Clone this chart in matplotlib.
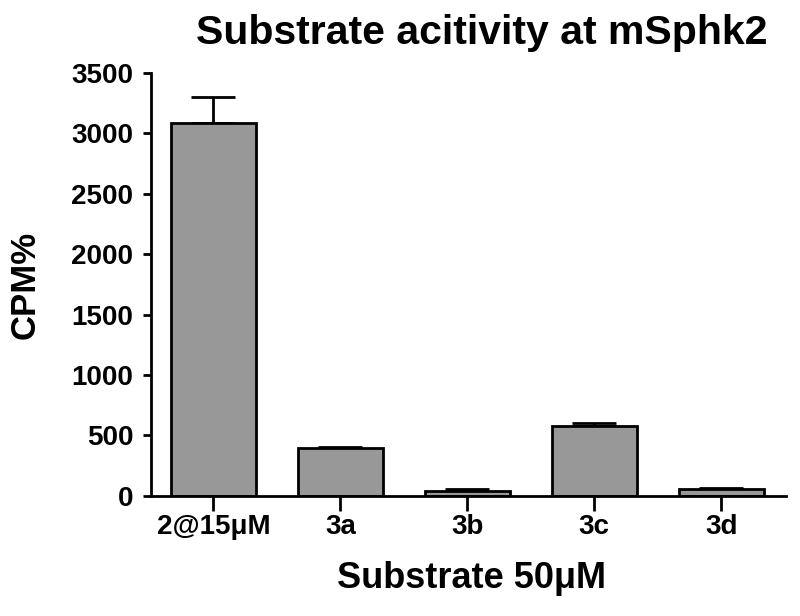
import numpy as np
import matplotlib.pyplot as plt

# values
labels = ['2@15μM', '3a', '3b', '3c', '3d']
means = [3090, 400, 42, 582, 58]
errs = [210, 8, 12, 25, 8]

plt.rcParams['font.family'] = ['Liberation Sans', 'DejaVu Sans']
plt.rcParams['font.weight'] = 'bold'

fig = plt.figure(figsize=(8, 6.16), dpi=100)
ax = fig.add_axes([0.189, 0.195, 0.7935, 0.6865])

x = np.arange(len(labels))
ax.bar(x, means, width=0.67, color='#989898', edgecolor='black', linewidth=2, zorder=2)
# only the upper half of the error bars, as in the original
ax.errorbar(x, means, yerr=[np.zeros(len(errs)), errs], fmt='none', ecolor='black',
            elinewidth=2, capsize=16, capthick=2, zorder=1)

ax.set_xlim(-0.49, 4.51)
ax.set_ylim(0, 3500)
ax.set_yticks(np.arange(0, 3501, 500))
ax.set_xticks(x)
ax.set_xticklabels(labels)

for s in ['top', 'right']:
    ax.spines[s].set_visible(False)
for s in ['left', 'bottom']:
    ax.spines[s].set_linewidth(2)
ax.tick_params(axis='y', direction='out', length=6, width=2, labelsize=20, pad=7)
ax.tick_params(axis='x', direction='out', length=11, width=2, labelsize=20, pad=2)

ax.set_ylabel('CPM%', fontsize=25, fontweight='bold')
ax.set_xlabel('Substrate 50μM', fontsize=26, fontweight='bold')
ax.xaxis.set_label_coords(0.504, -0.155)
ax.yaxis.set_label_coords(-0.172, 0.5)
ax.set_title('Substrate acitivity at mSphk2', fontsize=29.5, fontweight='bold', pad=21, x=0.52)

fig.savefig('out.png', dpi=100)
